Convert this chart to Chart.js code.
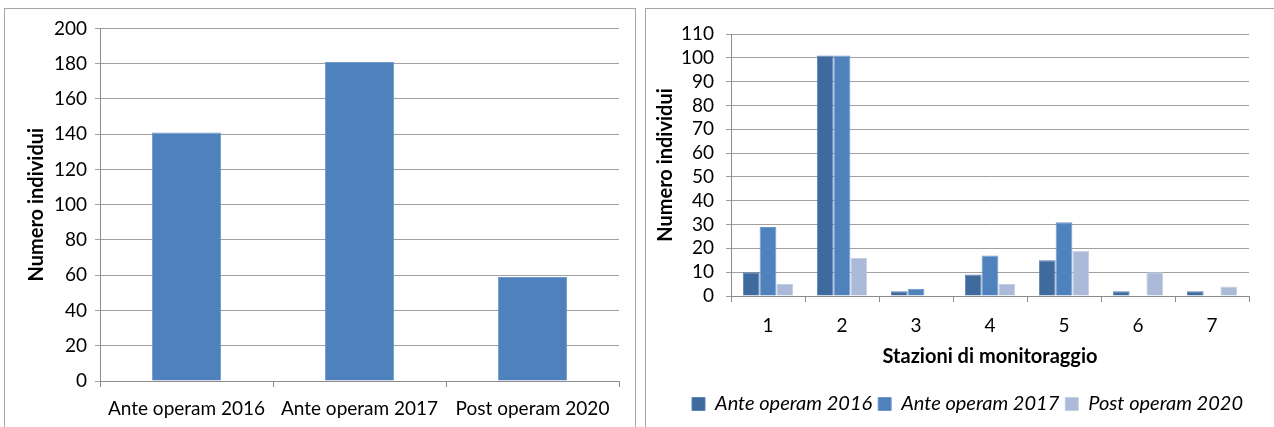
<!DOCTYPE html>
<html>
<head>
<meta charset="utf-8">
<script src="https://cdn.jsdelivr.net/npm/chart.js@4.4.0/dist/chart.umd.min.js"></script>
<style>
  body { margin: 0; background: #fff; width: 1274px; height: 427px; overflow: hidden; position: relative; }
  .box { position: absolute; top: 8px; height: 440px; border: 1px solid #a6a6a6; background: #fff; }
  #boxLeft { left: 4px; width: 630px; }
  #boxRight { left: 645px; width: 640px; }
  canvas { position: absolute; left: 0; top: 0; }
</style>
</head>
<body>
<div class="box" id="boxLeft"><canvas id="chartTotal" width="630" height="418"></canvas></div>
<div class="box" id="boxRight"><canvas id="chartStations" width="628" height="418"></canvas></div>

<script>
  // totals per campaign
  var campaigns = ['Ante operam 2016', 'Ante operam 2017', 'Post operam 2020'];
  var totals = [141, 181, 59];

  // individuals per monitoring station
  var stations = ['1', '2', '3', '4', '5', '6', '7'];
  var ante2016 = [10, 101, 2, 9, 15, 2, 2];
  var ante2017 = [29, 101, 3, 17, 31, 0, 0];
  var post2020 = [5, 16, 0, 5, 19, 10, 4];

  var fontFamily = 'Lato, "Liberation Sans", sans-serif';
  var gridColor = '#a0a0a0';
  var axisColor = '#8c8c8c';

  Chart.defaults.font.family = fontFamily;
  Chart.defaults.color = '#000';
  Chart.defaults.animation = false;

  new Chart(document.getElementById('chartTotal').getContext('2d'), {
    type: 'bar',
    data: {
      labels: campaigns,
      datasets: [{
        data: totals,
        backgroundColor: '#4f81bd',
        borderColor: '#6f98cb',
        borderWidth: 1,
        categoryPercentage: 0.4,
        barPercentage: 1.0
      }]
    },
    options: {
      responsive: false,
      layout: { padding: { top: 19, right: 16, left: 20, bottom: 0 } },
      plugins: { legend: { display: false }, tooltip: { enabled: false } },
      scales: {
        x: {
          grid: { drawOnChartArea: false, drawTicks: true, tickLength: 6, color: axisColor, offset: true },
          border: { color: axisColor },
          ticks: { font: { size: 19 }, padding: 10 },
          afterFit: function(scale) { scale.height = 46; }
        },
        y: {
          min: 0,
          max: 200,
          ticks: { stepSize: 20, autoSkip: false, font: { size: 19 }, padding: 8 },
          grid: { color: gridColor, tickLength: 5 },
          border: { color: axisColor },
          title: { display: true, text: 'Numero individui', font: { size: 20, weight: 'bold' }, padding: { top: 0, bottom: 4 } },
          afterFit: function(scale) { scale.width = 75; }
        }
      }
    }
  });

  new Chart(document.getElementById('chartStations').getContext('2d'), {
    type: 'bar',
    data: {
      labels: stations,
      datasets: [
        { label: 'Ante operam 2016', data: ante2016, backgroundColor: '#3e6a9e', borderColor: '#5a82b2', borderWidth: 1 },
        { label: 'Ante operam 2017', data: ante2017, backgroundColor: '#4f81bd', borderColor: '#6f98cb', borderWidth: 1 },
        { label: 'Post operam 2020', data: post2020, backgroundColor: '#aabad8', borderColor: '#c3cfe5', borderWidth: 1 }
      ]
    },
    options: {
      responsive: false,
      datasets: { bar: { categoryPercentage: 0.68, barPercentage: 1.0 } },
      layout: { padding: { top: 25, right: 25, left: 8, bottom: 3 } },
      plugins: {
        tooltip: { enabled: false },
        legend: {
          position: 'bottom',
          align: 'end',
          labels: {
            boxWidth: 13,
            boxHeight: 13,
            padding: 6,
            font: { size: 20, style: 'italic' }
          }
        }
      },
      scales: {
        x: {
          grid: { drawOnChartArea: false, drawTicks: true, tickLength: 6, color: axisColor, offset: true },
          border: { color: axisColor },
          ticks: { font: { size: 19 }, padding: 12 },
          title: { display: true, text: 'Stazioni di monitoraggio', font: { size: 20, weight: 'bold' }, padding: { top: 2, bottom: 19 } },
          afterFit: function(scale) { scale.height = 92; }
        },
        y: {
          min: 0,
          max: 110,
          ticks: { stepSize: 10, autoSkip: false, font: { size: 19 }, padding: 12 },
          grid: { color: gridColor, tickLength: 5 },
          border: { color: axisColor },
          title: { display: true, text: 'Numero individui', font: { size: 20, weight: 'bold' }, padding: { top: 0, bottom: 4 } },
          afterFit: function(scale) { scale.width = 77; }
        }
      }
    }
  });
</script>
</body>
</html>
